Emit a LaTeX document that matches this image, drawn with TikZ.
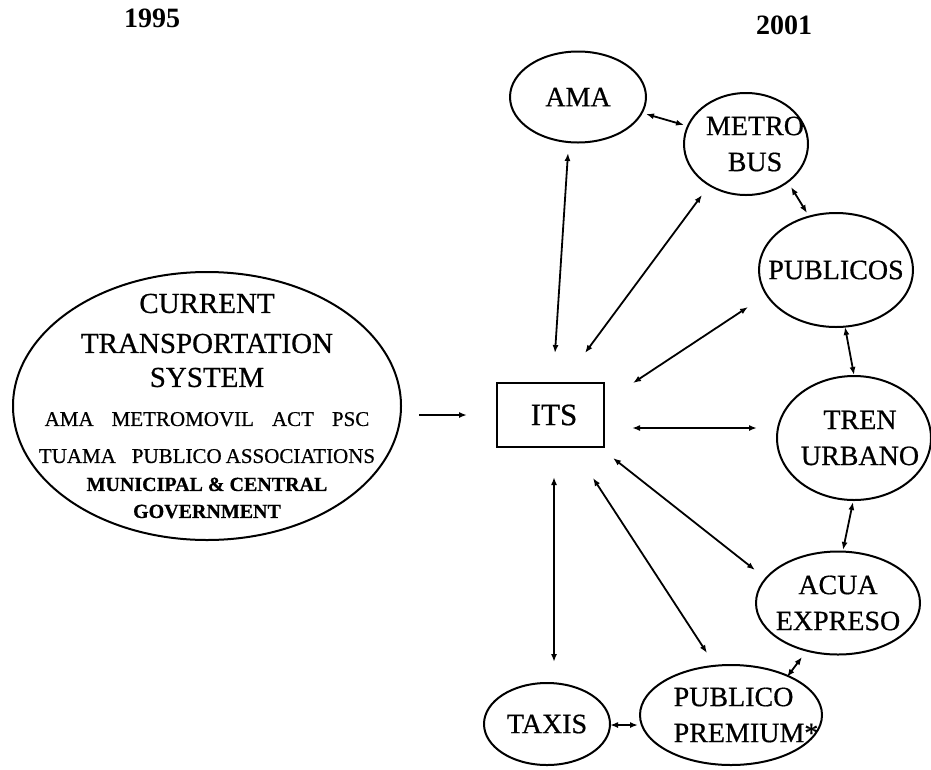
\documentclass[tikz,border=0pt]{standalone}
\usepackage{fontspec}
\setmainfont{Liberation Serif}
\newfontfamily\scanfont[FakeBold=0.6]{Liberation Serif}
\usetikzlibrary{arrows.meta,shapes.geometric}
\begin{document}
\begin{tikzpicture}[x=1pt,y=-1pt,
  oval/.style={draw,ellipse,line width=2pt,inner sep=0pt},
  txt/.style={align=center,inner sep=0pt,font=\scanfont\fontsize{28}{36}\selectfont},
  box/.style={draw,rectangle,line width=2pt,inner sep=0pt,font=\scanfont\fontsize{31}{36}\selectfont},
  link/.style={line width=1.8pt,{Latex[length=8pt,width=6pt]}-{Latex[length=8pt,width=6pt]}},
  flow/.style={line width=1.8pt,-{Latex[length=8pt,width=6pt]}},
  year/.style={font=\fontsize{28}{34}\selectfont\bfseries,inner sep=0pt}]
\useasboundingbox (0,0) rectangle (931,769);

% years
\node[year] (y1995) at (152,18) {1995};
\node[year] (y2001) at (784,25) {2001};

% current system
\node[oval,minimum width=388pt,minimum height=268pt,
      label={[txt,font=\scanfont\fontsize{20}{27}\selectfont]center:{%
   {\fontsize{29}{36}\selectfont CURRENT}\\[13pt]
   {\fontsize{29}{36}\selectfont TRANSPORTATION}\\[7pt]
   {\fontsize{29}{36}\selectfont SYSTEM}\\[12pt]
   {\fontsize{21}{27}\selectfont AMA\hspace{18pt}METROMOVIL\hspace{18pt}ACT\hspace{18pt}PSC}\\[10pt]
   {\fontsize{21}{27}\selectfont TUAMA\hspace{16pt}PUBLICO\hspace{4pt}ASSOCIATIONS}\\[1pt]
   {\fontsize{20}{27}\selectfont\bfseries MUNICIPAL \& CENTRAL}\\[0pt]
   {\fontsize{20}{27}\selectfont\bfseries GOVERNMENT}}}] (cur) at (207,406) {};

% ITS
\node[box,minimum width=107pt,minimum height=64pt] (its) at (550,415) {\hspace*{8pt}ITS};

% 2001 nodes
\node[oval,minimum width=136pt,minimum height=91pt,
      label={[txt]center:AMA}] (ama) at (578,97) {};
\node[oval,minimum width=124pt,minimum height=102pt,
      label={[txt]center:{\hspace*{18pt}METRO\\\hspace*{18pt}BUS}}] (metro) at (746,144) {};
\node[oval,minimum width=154pt,minimum height=114pt,
      label={[txt]center:PUBLICOS}] (pub) at (836,270) {};
\node[oval,minimum width=154pt,minimum height=124pt,
      label={[txt]center:{\hspace*{12pt}TREN\\\hspace*{12pt}URBANO}}] (tren) at (854,438) {};
\node[oval,minimum width=164pt,minimum height=103pt,
      label={[txt]center:{ACUA\\EXPRESO}}] (acua) at (838,603) {};
\node[oval,minimum width=182pt,minimum height=100pt,
      label={[txt,align=left]center:{\hspace*{30pt}PUBLICO\\\hspace*{30pt}PREMIUM*}}] (prem) at (731,715) {};
\node[oval,minimum width=126pt,minimum height=82pt,
      label={[txt]center:TAXIS}] (taxis) at (547,724) {};

% connectors
\draw[flow] ([shift={(212,9)}]cur.center) -- ([shift={(-83,0)}]its.center);
\draw[link] ([shift={(-10,56)}]ama.center) -- ([shift={(5,-62)}]its.center);
\draw[link] ([shift={(68,17)}]ama.center) -- ([shift={(-62,-19)}]metro.center);
\draw[link] ([shift={(-44,51)}]metro.center) -- ([shift={(35,-62)}]its.center);
\draw[link] ([shift={(45,43)}]metro.center) -- ([shift={(-29,-57)}]pub.center);
\draw[link] ([shift={(-88,37)}]pub.center) -- ([shift={(83,-32)}]its.center);
\draw[link] ([shift={(9,57)}]pub.center) -- ([shift={(0,-63)}]tren.center);
\draw[link] ([shift={(82,13)}]its.center) -- ([shift={(-97,-10)}]tren.center);
\draw[link] ([shift={(-1,64)}]tren.center) -- ([shift={(5,-53)}]acua.center);
\draw[link] ([shift={(-83,-33)}]acua.center) -- ([shift={(63,43)}]its.center);
\draw[link] ([shift={(-24,-62)}]prem.center) -- ([shift={(43,63)}]its.center);
\draw[link] ([shift={(-36,54)}]acua.center) -- ([shift={(56,-38)}]prem.center);
\draw[link] ([shift={(7,-62)}]taxis.center) -- ([shift={(4,62)}]its.center);
\draw[link] ([shift={(63,1)}]taxis.center) -- ([shift={(-93,10)}]prem.center);
\end{tikzpicture}
\end{document}
